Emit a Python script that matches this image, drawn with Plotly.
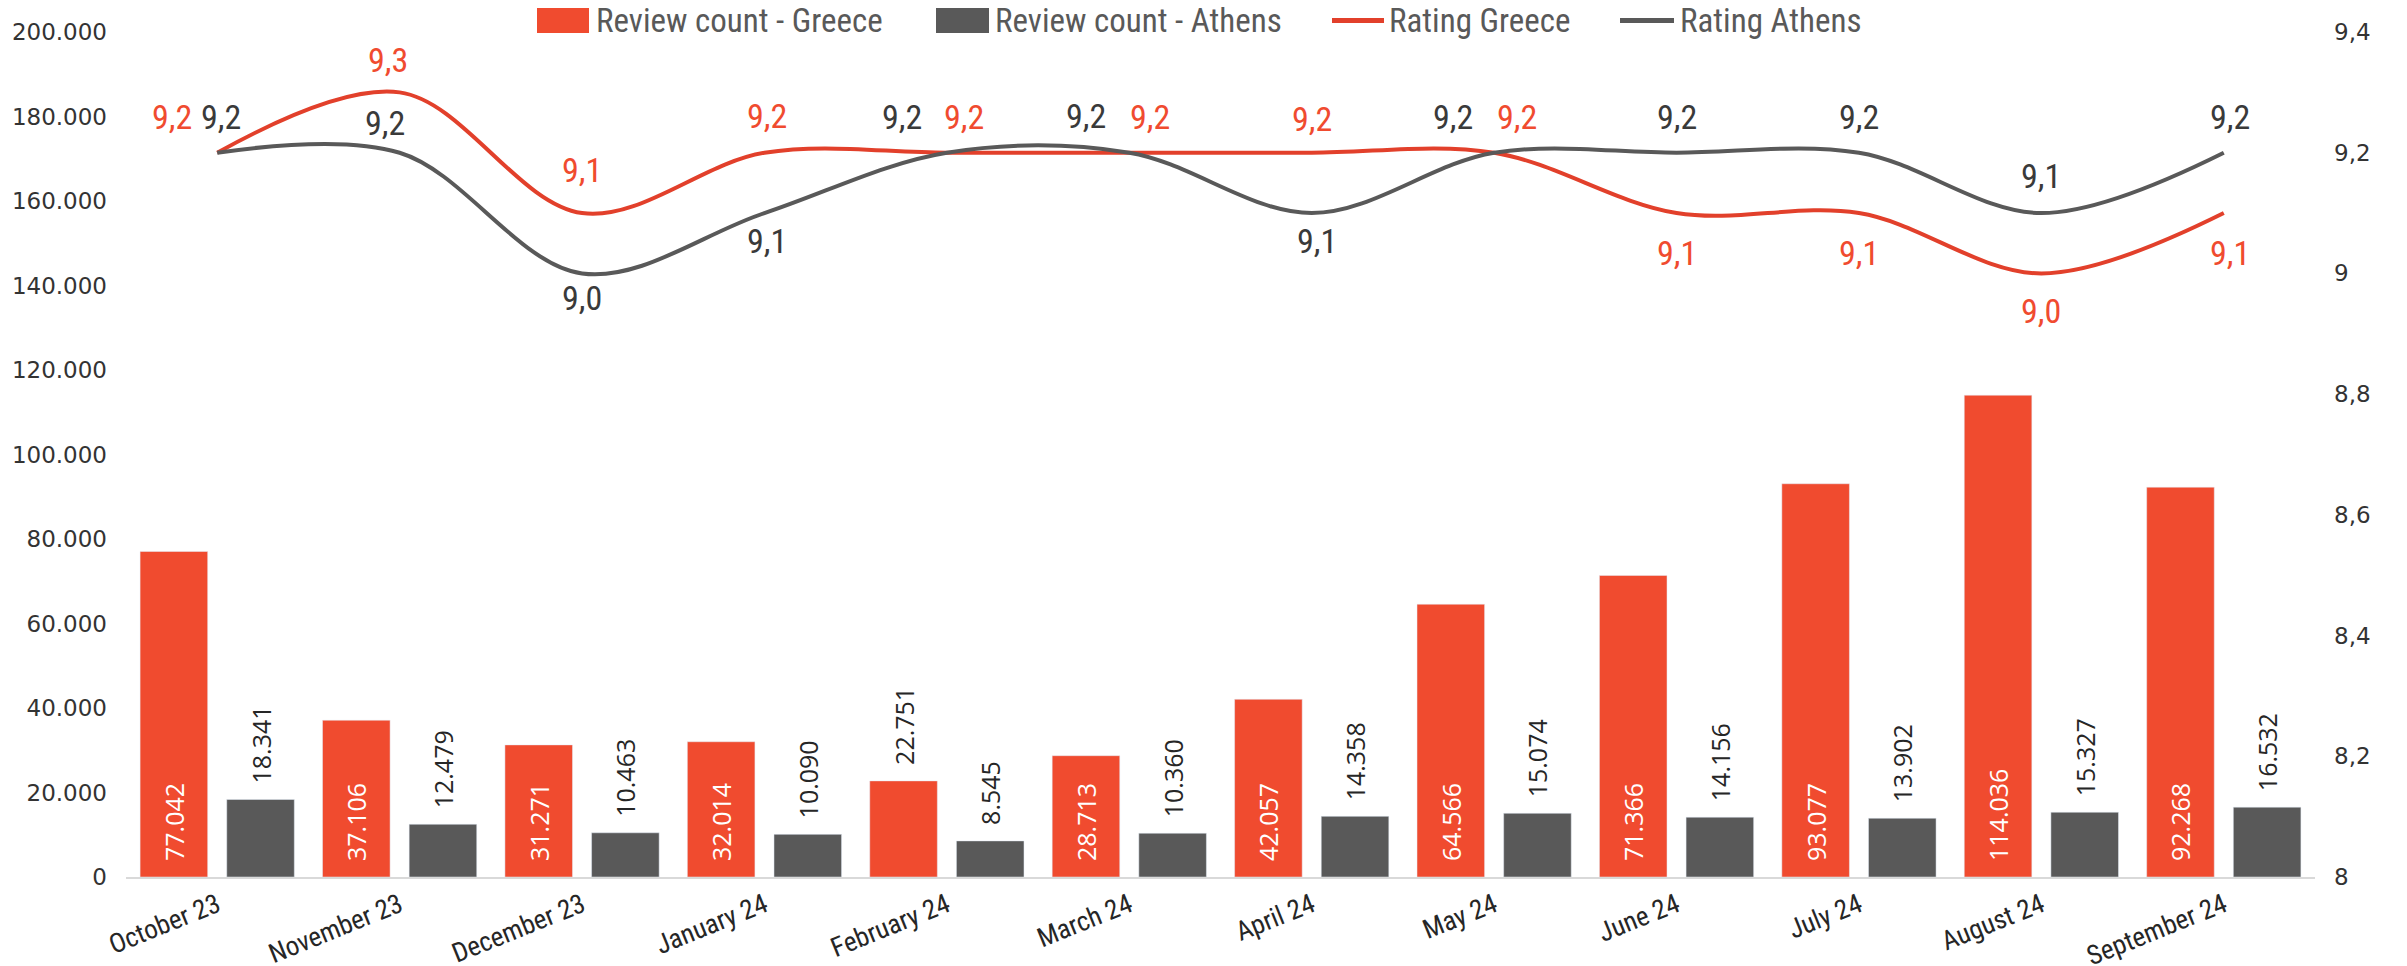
import plotly.graph_objects as go

months = ["October 23", "November 23", "December 23", "January 24", "February 24", "March 24",
          "April 24", "May 24", "June 24", "July 24", "August 24", "September 24"]
reviews_greece = [77042, 37106, 31271, 32014, 22751, 28713, 42057, 64566, 71366, 93077, 114036, 92268]
reviews_athens = [18341, 12479, 10463, 10090, 8545, 10360, 14358, 15074, 14156, 13902, 15327, 16532]
rating_greece = [9.2, 9.3, 9.1, 9.2, 9.2, 9.2, 9.2, 9.2, 9.1, 9.1, 9.0, 9.1]
rating_athens = [9.2, 9.2, 9.0, 9.1, 9.2, 9.2, 9.1, 9.2, 9.2, 9.2, 9.1, 9.2]
series_names = ["Review count - Greece", "Review count - Athens", "Rating Greece", "Rating Athens"]

# label offsets (style only), in pixels
greece_label_shift = [(-45, 36), (-12, 32), (0, 43), (3, 37), (17, 36), (21, 36),
                      (0, 34), (23, 36), (0, -40), (0, -40), (0, -38), (6, -40)]
athens_label_shift = [(4, 36), (-15, 30), (0, -25), (3, -28), (-45, 36), (-43, 37),
                      (5, -28), (-41, 36), (0, 36), (0, 36), (0, 37), (6, 36)]

RED = "#F04B2F"
RED_LINE = "#E2402B"
GRAY = "#595959"
DARK = "#262626"
COND = "Liberation Sans Narrow, Arial Narrow, Roboto Condensed, sans-serif"
NUM = "Open Sans, DejaVu Sans, sans-serif"
TICK = "DejaVu Sans, sans-serif"

W, H = 2407, 966
ML, MR, MT, MB = 126, 92, 32, 89
PW, PH = W - ML - MR, H - MT - MB

fig = go.Figure()

greece_pos = ["outside" if v < 25000 else "inside" for v in reviews_greece]
greece_col = [DARK if p == "outside" else "white" for p in greece_pos]

fig.add_trace(go.Bar(
    x=months, y=reviews_greece, name=series_names[0],
    marker=dict(color=RED), texttemplate="\u00a0\u00a0%{y:,d}",
    textposition=greece_pos, insidetextanchor="start", textangle=-90, constraintext="none",
    textfont=dict(family=NUM, size=25, color=greece_col), cliponaxis=False,
))
fig.add_trace(go.Bar(
    x=months, y=reviews_athens, name=series_names[1],
    marker=dict(color=GRAY), texttemplate="\u00a0\u00a0%{y:,d}",
    textposition="outside", textangle=-90, constraintext="none",
    textfont=dict(family=NUM, size=25, color=DARK), cliponaxis=False,
))
fig.add_trace(go.Scatter(
    x=months, y=rating_greece, name=series_names[2], yaxis="y2", mode="lines",
    line=dict(color=RED_LINE, width=4, shape="spline", smoothing=1.0),
))
fig.add_trace(go.Scatter(
    x=months, y=rating_athens, name=series_names[3], yaxis="y2", mode="lines",
    line=dict(color=GRAY, width=4, shape="spline", smoothing=1.0),
))

annotations = []
for series, shifts, col in ((rating_greece, greece_label_shift, RED),
                            (rating_athens, athens_label_shift, "#3A3A3A")):
    for m, v, (dx, dy) in zip(months, series, shifts):
        annotations.append(dict(
            x=m, y=v, xref="x", yref="y2", text=f"{v:.1f}".replace(".", ","),
            showarrow=False, xshift=dx, yshift=dy,
            font=dict(family=COND, size=34, color=col),
        ))

# custom legend (pixel layout converted to paper coordinates)
def px_x(p):
    return (p - ML) / PW

def px_y(p):
    return 1 + (MT - p) / PH

legend_items = [  # (symbol kind, colour, symbol x0, symbol x1, text x)
    ("rect", RED, 537, 589, 594),
    ("rect", GRAY, 936, 989, 993),
    ("line", RED_LINE, 1332, 1384, 1387),
    ("line", GRAY, 1620, 1674, 1678),
]
shapes = []
for name, (kind, col, x0, x1, tx) in zip(series_names, legend_items):
    if kind == "rect":
        shapes.append(dict(type="rect", xref="paper", yref="paper",
                           x0=px_x(x0), x1=px_x(x1), y0=px_y(33), y1=px_y(8),
                           fillcolor=col, line=dict(width=0)))
    else:
        shapes.append(dict(type="line", xref="paper", yref="paper",
                           x0=px_x(x0), x1=px_x(x1), y0=px_y(20.5), y1=px_y(20.5),
                           line=dict(color=col, width=5)))
    annotations.append(dict(x=px_x(tx), y=px_y(20.5), xref="paper", yref="paper",
                            xanchor="left", yanchor="middle", text=name, showarrow=False,
                            font=dict(family=COND, size=33, color="#595959")))

fig.update_layout(
    width=W, height=H,
    margin=dict(l=ML, r=MR, t=MT, b=MB, autoexpand=False),
    paper_bgcolor="white", plot_bgcolor="white",
    separators=",.",
    barmode="group", bargap=0.05, bargroupgap=0.22,
    showlegend=False,
    xaxis=dict(showgrid=False, showline=True, linecolor="#D9D9D9", linewidth=2,
               tickangle=-22, ticks="", ticklabelstandoff=0,
               tickfont=dict(family=COND, size=27, color=DARK)),
    yaxis=dict(range=[0, 200000], tickvals=list(range(0, 200001, 20000)), tickformat=",d",
               showgrid=False, zeroline=False, ticks="", ticklabelstandoff=18,
               tickfont=dict(family=TICK, size=23, color="#333333")),
    yaxis2=dict(range=[8, 9.4], tick0=8, dtick=0.2, overlaying="y", side="right",
                showgrid=False, zeroline=False, ticks="", ticklabelstandoff=18,
                tickfont=dict(family=TICK, size=23, color="#333333")),
    shapes=shapes,
    annotations=annotations,
)

fig.write_html("out.html", config={"displayModeBar": False},
               post_script="document.body.style.margin='0';document.body.style.overflow='hidden';")
